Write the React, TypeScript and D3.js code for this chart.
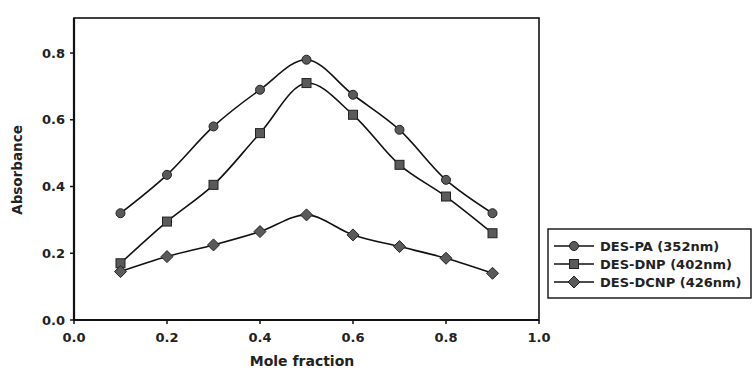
import React from "react";
import * as d3 from "d3";

const moleFraction = [0.1, 0.2, 0.3, 0.4, 0.5, 0.6, 0.7, 0.8, 0.9];
const desPA = [0.32, 0.435, 0.58, 0.69, 0.78, 0.675, 0.57, 0.42, 0.32];
const desDNP = [0.17, 0.295, 0.405, 0.56, 0.71, 0.615, 0.465, 0.37, 0.26];
const desDCNP = [0.145, 0.19, 0.225, 0.265, 0.315, 0.255, 0.22, 0.185, 0.14];
const seriesNames = ["DES-PA (352nm)", "DES-DNP (402nm)", "DES-DCNP (426nm)"];
const xTicks = [0, 0.2, 0.4, 0.6, 0.8, 1.0];
const yTicks = [0, 0.2, 0.4, 0.6, 0.8];

const W = 754;
const H = 370;
const margin = { top: 18, right: 215, bottom: 50, left: 74 };
const font = "'DejaVu Sans', Arial, sans-serif";

function Marker({ kind, x, y }: { kind: number; x: number; y: number }) {
  const fill = "#5a5a5a";
  const stroke = "#222";
  if (kind === 0) return <circle cx={x} cy={y} r={4.5} fill={fill} stroke={stroke} strokeWidth={1} />;
  if (kind === 1) return <rect x={x - 4.5} y={y - 4.5} width={9} height={9} fill={fill} stroke={stroke} strokeWidth={1} />;
  return <path d={`M${x},${y - 6}L${x + 6},${y}L${x},${y + 6}L${x - 6},${y}Z`} fill={fill} stroke={stroke} strokeWidth={1} />;
}

export default function App() {
  const x = d3.scaleLinear().domain([0, 1]).range([margin.left, W - margin.right]);
  const y = d3.scaleLinear().domain([0, 0.905]).range([H - margin.bottom, margin.top]);
  const series = [desPA, desDNP, desDCNP];
  const line = d3
    .line<number>()
    .x((_, i) => x(moleFraction[i]))
    .y((d) => y(d))
    .curve(d3.curveCatmullRom.alpha(0.5));

  const x0 = x(0), x1 = x(1), y0 = y(0), y1 = y(0.905);
  const legend = { x: 548, y: 229, w: 203, h: 69 };

  return (
    <svg width={W} height={H} style={{ position: "absolute", left: 0, top: 0, background: "#fff" }} fontFamily={font}>
      <rect x={x0} y={y1} width={x1 - x0} height={y0 - y1} fill="none" stroke="#111" strokeWidth={1.6} />
      <line x1={x0} y1={y1} x2={x0} y2={y0} stroke="#111" strokeWidth={2.2} />
      <line x1={x0} y1={y0} x2={x1} y2={y0} stroke="#111" strokeWidth={2} />

      {yTicks.map((t) => (
        <g key={"y" + t}>
          <line x1={x0 - 4} x2={x0} y1={y(t)} y2={y(t)} stroke="#111" strokeWidth={1.5} />
          <text x={x0 - 9} y={y(t)} dy="0.35em" textAnchor="end" fontSize={13} fontWeight="bold" fill="#222">
            {t.toFixed(1)}
          </text>
        </g>
      ))}
      {xTicks.map((t) => (
        <g key={"x" + t}>
          <line x1={x(t)} x2={x(t)} y1={y0} y2={y0 + 4} stroke="#111" strokeWidth={1.5} />
          <text x={x(t)} y={y0 + 22} textAnchor="middle" fontSize={13} fontWeight="bold" fill="#222">
            {t.toFixed(1)}
          </text>
        </g>
      ))}

      <text x={302} y={366} textAnchor="middle" fontSize={14} fontWeight="bold" fill="#222">
        Mole fraction
      </text>
      <text transform="translate(22,170) rotate(-90)" textAnchor="middle" fontSize={13.5} fontWeight="bold" fill="#222">
        Absorbance
      </text>

      {series.map((s, k) => (
        <g key={"s" + k}>
          <path d={line(s) || ""} fill="none" stroke="#111" strokeWidth={1.6} />
          {s.map((v, i) => (
            <Marker key={i} kind={k} x={x(moleFraction[i])} y={y(v)} />
          ))}
        </g>
      ))}

      <rect x={legend.x} y={legend.y} width={legend.w} height={legend.h} fill="#fff" stroke="#111" strokeWidth={1.4} />
      {seriesNames.map((name, k) => {
        const ry = legend.y + 17 + k * 18;
        return (
          <g key={"l" + k}>
            <line x1={legend.x + 6} x2={legend.x + 46} y1={ry} y2={ry} stroke="#111" strokeWidth={1.4} />
            <Marker kind={k} x={legend.x + 26} y={ry} />
            <text x={legend.x + 52} y={ry} dy="0.35em" fontSize={13} fontWeight="bold" fill="#222">
              {name}
            </text>
          </g>
        );
      })}
    </svg>
  );
}
